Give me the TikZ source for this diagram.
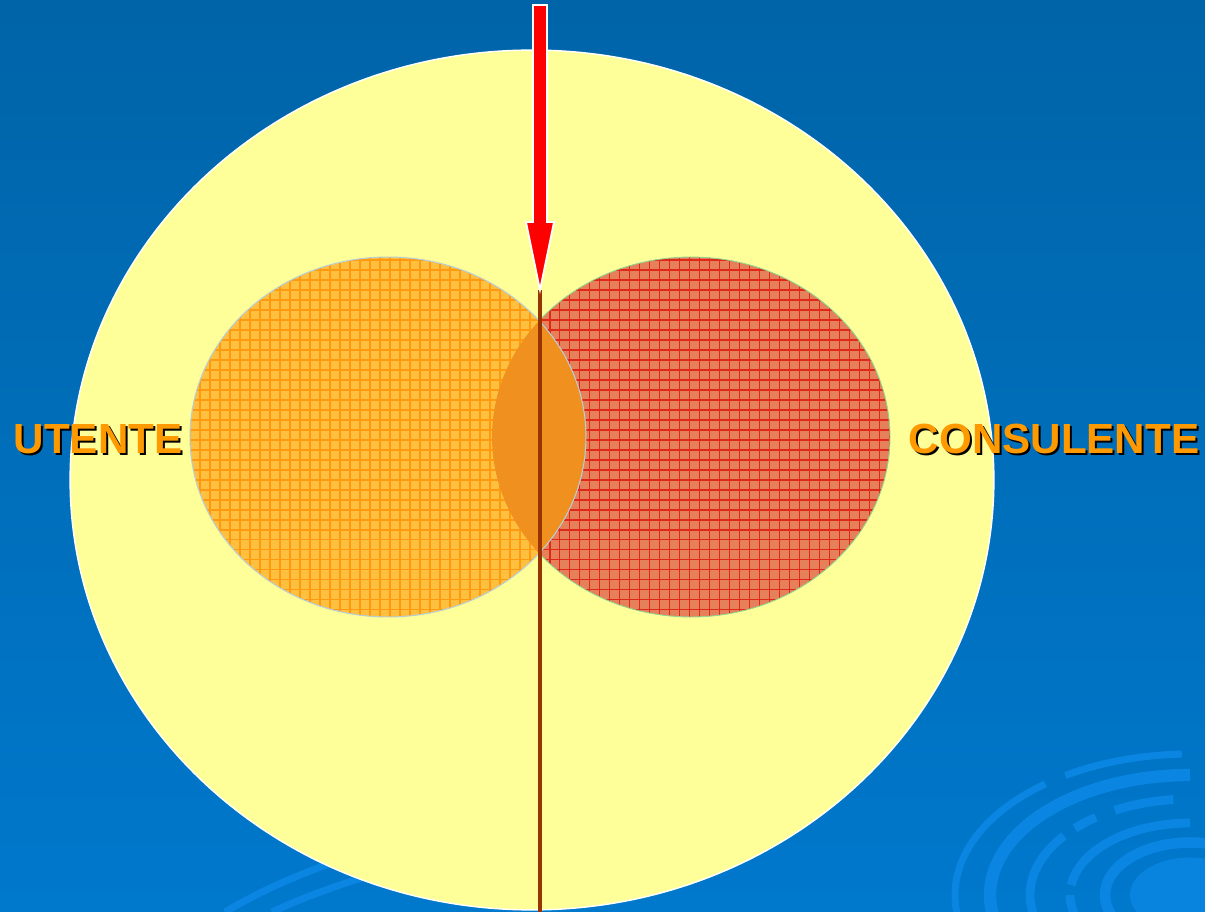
\documentclass[tikz,border=0pt]{standalone}
\usepackage{fontspec}
\setmainfont{Liberation Sans}
\usetikzlibrary{positioning,calc}
\definecolor{bgtop}{HTML}{0064A8}
\definecolor{bgbot}{HTML}{0078CC}
\definecolor{swirl}{HTML}{0A86E2}
\definecolor{bigfill}{HTML}{FFFF99}
\definecolor{utfill}{HTML}{FFC040}
\definecolor{utgrid}{HTML}{FF9A10}
\definecolor{cofill}{HTML}{E6805A}
\definecolor{cogrid}{HTML}{E02818}
\definecolor{midfill}{HTML}{F0901E}
\definecolor{axis}{HTML}{993300}
\definecolor{lblorange}{HTML}{FF9900}

\tikzset{
  lbl/.style={font=\bfseries\fontsize{24}{28}\selectfont, text=lblorange, inner sep=0pt},
  lblshadow/.style={lbl, text=black},
}

\begin{document}
\begin{tikzpicture}[x=0.02cm, y=-0.02cm]
  \useasboundingbox (0,0) rectangle (1205,912);
  \shade[top color=bgtop, bottom color=bgbot] (0,0) rectangle (1205,912);

  % swirls
  \begin{scope}[swirl]
    \clip (0,0) rectangle (1205,912);
    \coordinate (swc) at (1190,895);
    \fill[swirl!80!bgbot] (swc) ellipse [x radius=1.2cm, y radius=0.75cm];
    \draw[line width=6pt] (swc) ellipse [x radius=1.7cm, y radius=1.05cm];
    \foreach \r/\a/\b/\w in {2.4/90/172/5pt, 2.4/180/270/5pt, 3.2/96/118/5pt, 3.2/126/136/5pt, 3.2/142/270/5pt, 4.0/90/200/7pt, 4.0/200/270/7pt, 4.7/92/122/4pt, 4.7/128/265/4pt}
      \draw[line width=\w] ($(swc)+(\a:\r cm and 0.6*\r cm)$) arc[start angle=\a, end angle=\b, x radius=\r cm, y radius=0.6*\r cm];
    \draw[line width=4pt] (225,912) .. controls (270,885) and (330,860) .. (420,835);
    \draw[line width=4pt] (272,912) .. controls (330,885) and (400,865) .. (470,850);
  \end{scope}

  % big circle
  \fill[bigfill, draw=white, line width=0.8pt] (532,480) ellipse [x radius=9.24cm, y radius=8.6cm];

  % consulente
  \fill[cofill] (691,437) ellipse [x radius=3.98cm, y radius=3.6cm];
  \begin{scope}
    \clip (691,437) ellipse [x radius=3.98cm, y radius=3.6cm];
    \draw[cogrid, line width=0.7pt, step=0.2cm] (480,250) grid (900,630);
  \end{scope}
  \draw[green!45!gray!60, line width=0.5pt] (691,437) ellipse [x radius=3.98cm, y radius=3.6cm];

  % utente
  \fill[utfill] (388,437) ellipse [x radius=3.96cm, y radius=3.6cm];
  \begin{scope}
    \clip (388,437) ellipse [x radius=3.96cm, y radius=3.6cm];
    \draw[utgrid, line width=0.7pt, step=0.2cm] (180,250) grid (600,630);
    \clip (691,437) ellipse [x radius=3.98cm, y radius=3.6cm];
    \fill[midfill] (480,250) rectangle (600,630);
  \end{scope}
  \draw[cyan!30!gray!50, line width=0.6pt] (388,437) ellipse [x radius=3.96cm, y radius=3.6cm];

  % labels
  \node[lblshadow] (utshadow) at (100,441) {UTENTE};
  \node[lbl] (utente) at (98,439) {UTENTE};
  \node[lblshadow] (coshadow) at (1056,441) {CONSULENTE};
  \node[lbl] (consulente) at (1054,439) {CONSULENTE};

  % axis and arrow
  \coordinate (arrowtop) at (540,5);
  \coordinate (arrowtip) at (540,290);
  \coordinate (axisend) at (540,912);
  \draw[axis, line width=2pt] (arrowtip) -- (axisend);
  \fill[red, draw=white, line width=1pt]
    ($(arrowtop)+(-7,0)$) -- ($(arrowtop)+(7,0)$) -- ($(arrowtip)+(7,-68)$) -- ($(arrowtip)+(14,-68)$)
    -- (arrowtip) -- ($(arrowtip)+(-14,-68)$) -- ($(arrowtip)+(-7,-68)$) -- cycle;
\end{tikzpicture}
\end{document}
